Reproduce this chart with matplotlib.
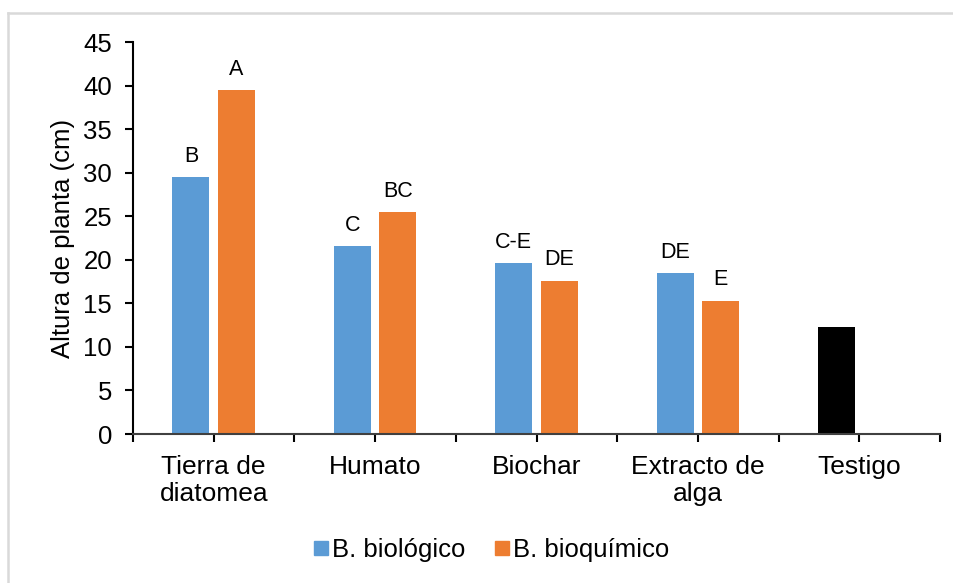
import matplotlib
matplotlib.use("Agg")
import matplotlib.pyplot as plt
from matplotlib.lines import Line2D
import numpy as np

plt.rcParams['font.family'] = ['Liberation Sans', 'DejaVu Sans']

categories = ["Tierra de\ndiatomea", "Humato", "Biochar", "Extracto de\nalga", "Testigo"]
biologico = [29.5, 21.6, 19.6, 18.5, 12.3]
bioquimico = [39.5, 25.5, 17.6, 15.3, 0]
letters_bio = ["B", "C", "C-E", "DE", ""]
letters_bioq = ["A", "BC", "DE", "E", ""]
series_names = ["B. biológico", "B. bioquímico"]

blue = "#5B9BD5"
orange = "#ED7D31"
bio_colors = [blue, blue, blue, blue, "#000000"]

fig = plt.figure(figsize=(9.54, 5.83), dpi=100)
ax = fig.add_axes([133/954, 1-434/583, (940-133)/954, (434-42)/583])

x = np.arange(len(categories))
w = 0.229
off = 0.141
ax.bar(x - off, biologico, w, color=bio_colors, zorder=2)
ax.bar(x + off, bioquimico, w, color=orange, zorder=2)

fs_lab = 15.5
for xi, v, t in zip(x - off, biologico, letters_bio):
    if t:
        ax.annotate(t, (xi, v), xytext=(0, 11), textcoords="offset points",
                    ha="center", va="baseline", fontsize=fs_lab)
for xi, v, t in zip(x + off, bioquimico, letters_bioq):
    if t:
        ax.annotate(t, (xi, v), xytext=(0, 11), textcoords="offset points",
                    ha="center", va="baseline", fontsize=fs_lab)

ax.set_xlim(-0.5, len(categories) - 0.5)
ax.set_ylim(0, 45)
ax.set_yticks(np.arange(0, 46, 5))
ax.set_xticks(x)
ax.set_xticklabels(categories, fontsize=19, linespacing=1.15)
ax.set_xticks(np.arange(-0.5, len(categories), 1.0), minor=True)
ax.tick_params(axis='x', which='both', length=6, width=1.5, direction='out', pad=9)
ax.tick_params(axis='y', length=6, width=1.5, direction='out', labelsize=18.5, pad=9)

for s in ['top', 'right']:
    ax.spines[s].set_visible(False)
ax.spines['left'].set_linewidth(1.5)
ax.spines['bottom'].set_linewidth(1.5)
ax.spines['bottom'].set_color('#404040')

ax.set_ylabel("Altura de planta (cm)", fontsize=18.5, labelpad=6)

handles = [Line2D([], [], marker='s', linestyle='none', markersize=10, color=blue),
           Line2D([], [], marker='s', linestyle='none', markersize=10, color=orange)]
fig.legend(handles, series_names, loc='center', bbox_to_anchor=(490/954, 1-550/583),
           ncol=2, frameon=False, fontsize=18.5, handletextpad=0.05, columnspacing=1.0,
           handlelength=0.8)

# light gray chart frame
fig.add_artist(Line2D([8.5/954, 8.5/954], [0, 1-12.5/583], transform=fig.transFigure,
                      color='#d9d9d9', linewidth=1.8))
fig.add_artist(Line2D([8.5/954, 1], [1-12.5/583, 1-12.5/583], transform=fig.transFigure,
                      color='#d9d9d9', linewidth=1.8))

fig.savefig("out.png", dpi=100)
